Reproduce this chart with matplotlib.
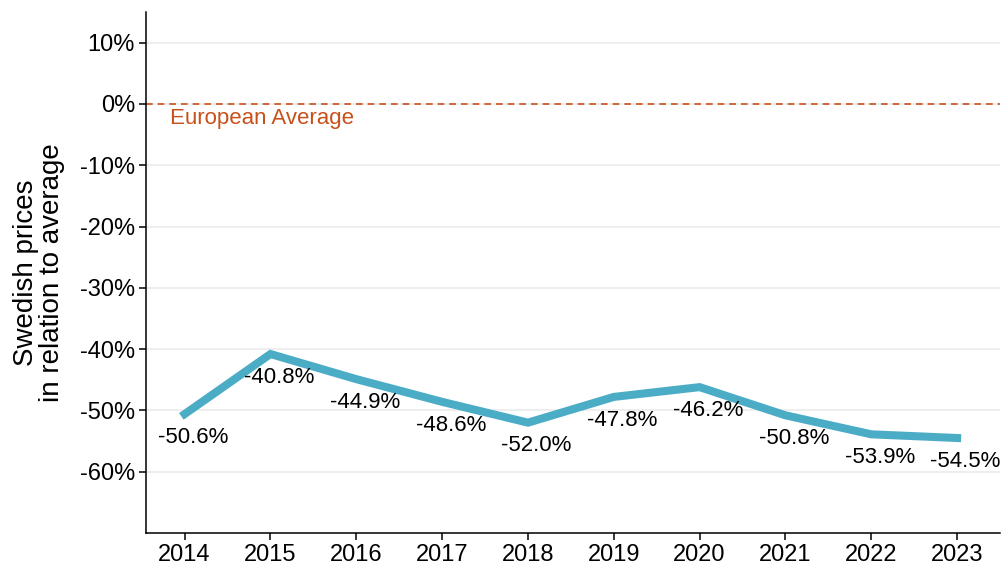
import matplotlib
matplotlib.use("Agg")
import matplotlib.pyplot as plt
from matplotlib.ticker import FuncFormatter

plt.rcParams['font.family'] = ['Liberation Sans', 'DejaVu Sans']

years = [2014, 2015, 2016, 2017, 2018, 2019, 2020, 2021, 2022, 2023]
values = [-50.6, -40.8, -44.9, -48.6, -52.0, -47.8, -46.2, -50.8, -53.9, -54.5]
yticks = [10, 0, -10, -20, -30, -40, -50, -60]
ref_label = "European Average"
ylabel = "Swedish prices\nin relation to average"

fig = plt.figure(figsize=(10.02, 5.67), dpi=100)
ax = fig.add_axes([146/1002, 1 - 533/567, (1000-146)/1002, (533-12)/567])

ax.set_xlim(2013.55, 2023.5)
ax.set_ylim(-70, 15)
ax.set_yticks(yticks)
ax.set_xticks(years)
ax.yaxis.set_major_formatter(FuncFormatter(lambda v, p: f"{v:.0f}%"))
ax.grid(axis='y', color='#EBEBEB', linewidth=1.2)
ax.set_axisbelow(True)
for s in ['top', 'right']:
    ax.spines[s].set_visible(False)
for s in ['left', 'bottom']:
    ax.spines[s].set_linewidth(1.1)
ax.tick_params(axis='both', labelsize=17, length=5, width=1.1, colors='black', pad=3)

ax.axhline(0, color='#C8501A', linestyle=(0, (4, 3)), linewidth=1.2, zorder=2)
ax.text(2013.83, -2.3, ref_label, color='#C8501A', fontsize=16, ha='left', va='center')

ax.plot(years, values, color='#4BACC6', linewidth=5.8, solid_joinstyle='miter', zorder=3)
for x, y in zip(years, values):
    ax.text(x + 0.1, y - 3.8, f"{y:.1f}%", fontsize=16, ha='center', va='center', color='black', zorder=4)

fig.text(39/1002, 1 - 273/567, ylabel, fontsize=20, rotation=90, ha='center', va='center',
         multialignment='center', linespacing=1.0)

fig.savefig("out.png", dpi=100)
